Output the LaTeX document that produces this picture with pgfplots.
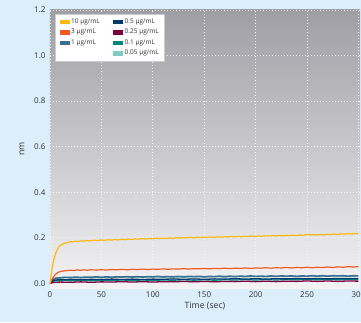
\documentclass[border=0pt]{standalone}
\usepackage{pgfplots}
\pgfplotsset{compat=1.18}
\usepackage{fontspec}
\setmainfont{Open Sans}
\definecolor{bgblue}{RGB}{220,238,250}
\definecolor{gtop}{RGB}{158,158,164}
\definecolor{gbot}{RGB}{243,243,245}
\definecolor{cA}{RGB}{253,184,19}
\definecolor{cB}{RGB}{241,90,36}
\definecolor{cC}{RGB}{60,110,143}
\definecolor{cD}{RGB}{0,58,112}
\definecolor{cE}{RGB}{123,0,65}
\definecolor{cF}{RGB}{0,137,123}
\definecolor{cG}{RGB}{126,203,195}
\definecolor{tickgray}{RGB}{50,50,50}
\begin{document}
\begin{tikzpicture}
\fill[bgblue] (-50pt,-34pt) rectangle (311pt,288pt);
\begin{axis}[
  at={(0pt,0pt)}, anchor=south west,
  scale only axis, width=310pt, height=278pt,
  xmin=0, xmax=301.5, ymin=-0.02, ymax=1.2,
  xtick={0,50,...,300}, ytick={0,0.2,...,1.2},
  yticklabel style={/pgf/number format/fixed, /pgf/number format/fixed zerofill, /pgf/number format/precision=1, xshift=-1pt},
  /pgf/number format/assume math mode=true,
  ticklabel style={font=\fontsize{8}{9}\selectfont, text=tickgray},
  axis line style={draw=none},
  major tick length=0pt,
  grid=major,
  grid style={white!92!gray, dash pattern=on 0.9pt off 2.1pt, line width=0.8pt},
  axis background/.style={shade, top color=gtop, bottom color=gbot},
  xlabel={Time (sec)}, ylabel={nm},
  label style={font=\fontsize{8.7}{10}\selectfont, text=tickgray},
  xlabel style={yshift=2pt},
  ylabel style={yshift=3pt},
  legend columns=2,
  legend cell align=left,
  legend image code/.code={\fill[#1, draw=none] (0pt,-2.2pt) rectangle (10pt,2.2pt);},
  legend style={at={(0,1)}, anchor=north west, xshift=5pt, yshift=-4pt,
    font=\fontsize{6.5}{7.5}\selectfont, text=tickgray, draw=gray!40, fill=white,
    inner xsep=4.5pt, inner ysep=2.5pt, row sep=0.3pt,
    nodes={inner xsep=1.5pt},
    /tikz/every even column/.append style={column sep=12pt}},
]
\addlegendimage{fill=cA}\addlegendentry{10 µg/mL}
\addlegendimage{fill=cD}\addlegendentry{0.5 µg/mL}
\addlegendimage{fill=cB}\addlegendentry{3 µg/mL}
\addlegendimage{fill=cE}\addlegendentry{0.25 µg/mL}
\addlegendimage{fill=cC}\addlegendentry{1 µg/mL}
\addlegendimage{fill=cF}\addlegendentry{0.1 µg/mL}
\addlegendimage{empty legend}\addlegendentry{}
\addlegendimage{fill=cG}\addlegendentry{0.05 µg/mL}

% 0.05
\addplot[cG, line width=1.2pt, forget plot] coordinates {
(0,0)(1,0.008)(2,0.014)(4,0.02)(7,0.023)(10,0.025)(20,0.026)(30,0.024)(40,0.027)(50,0.025)(60,0.028)(70,0.026)(80,0.028)(90,0.026)(100,0.029)(110,0.027)(120,0.029)(130,0.027)(140,0.03)(150,0.028)(160,0.03)(170,0.028)(180,0.031)(190,0.029)(200,0.031)(210,0.029)(220,0.032)(230,0.03)(240,0.032)(250,0.03)(260,0.033)(270,0.031)(280,0.033)(290,0.031)(300,0.033)};
% 0.1
\addplot[cF, line width=1.2pt, forget plot] coordinates {
(0,0)(1,0.005)(2,0.008)(4,0.011)(7,0.012)(10,0.013)(20,0.012)(30,0.014)(40,0.012)(50,0.014)(60,0.013)(70,0.015)(80,0.013)(90,0.015)(100,0.013)(110,0.015)(120,0.014)(130,0.016)(140,0.014)(150,0.016)(160,0.014)(170,0.016)(180,0.015)(190,0.017)(200,0.015)(210,0.017)(220,0.015)(230,0.017)(240,0.016)(250,0.018)(260,0.016)(270,0.018)(280,0.016)(290,0.018)(300,0.017)};
% 1
\addplot[cC, line width=1.6pt, forget plot] coordinates {
(0,0)(1,0.008)(2,0.014)(3,0.018)(5,0.022)(7,0.024)(10,0.025)(15,0.027)(20,0.026)(25,0.028)(30,0.026)(35,0.028)(40,0.027)(45,0.029)(50,0.027)(55,0.029)(60,0.027)(65,0.029)(70,0.028)(75,0.03)(80,0.028)(85,0.03)(90,0.028)(95,0.03)(100,0.029)(105,0.031)(110,0.029)(115,0.03)(120,0.029)(125,0.031)(130,0.029)(135,0.031)(140,0.03)(145,0.031)(150,0.029)(155,0.031)(160,0.03)(165,0.032)(170,0.03)(175,0.032)(180,0.03)(185,0.032)(190,0.031)(195,0.033)(200,0.031)(205,0.032)(210,0.031)(215,0.033)(220,0.031)(225,0.033)(230,0.032)(235,0.033)(240,0.031)(245,0.033)(250,0.032)(255,0.034)(260,0.032)(265,0.034)(270,0.032)(275,0.034)(280,0.033)(285,0.034)(290,0.032)(295,0.034)(300,0.033)};
% 0.5
\addplot[cD, line width=1.3pt, forget plot] coordinates {
(0,0)(1,0.006)(2,0.01)(3,0.013)(5,0.015)(8,0.016)(10,0.017)(15,0.016)(20,0.018)(30,0.016)(40,0.018)(50,0.017)(60,0.019)(70,0.017)(80,0.019)(90,0.017)(100,0.019)(110,0.018)(120,0.02)(130,0.018)(140,0.02)(150,0.018)(160,0.02)(170,0.019)(180,0.021)(190,0.019)(200,0.021)(210,0.019)(220,0.021)(230,0.02)(240,0.022)(250,0.02)(260,0.022)(270,0.02)(280,0.022)(290,0.021)(300,0.022)};
% 0.25
\addplot[cE, line width=1.3pt, forget plot] coordinates {
(0,0)(2,0.003)(5,0.005)(10,0.006)(20,0.005)(30,0.007)(40,0.005)(50,0.007)(60,0.006)(70,0.008)(80,0.006)(90,0.008)(100,0.006)(110,0.008)(120,0.007)(130,0.009)(140,0.007)(150,0.009)(160,0.007)(170,0.009)(180,0.008)(190,0.01)(200,0.008)(210,0.01)(220,0.008)(230,0.01)(240,0.009)(250,0.011)(260,0.009)(270,0.011)(280,0.009)(290,0.011)(300,0.01)};
% 3
\addplot[cB, line width=1.2pt, forget plot] coordinates {
(0,0)(1,0.01)(2,0.019)(3,0.026)(4,0.032)(5,0.038)(6,0.042)(7,0.046)(8,0.049)(10,0.052)(12,0.054)(15,0.056)(18,0.057)(20,0.058)(23,0.057)(26,0.059)(30,0.058)(33,0.06)(36,0.058)(40,0.06)(45,0.059)(50,0.06)(55,0.059)(60,0.061)(65,0.06)(70,0.062)(75,0.06)(80,0.062)(85,0.061)(90,0.063)(95,0.061)(100,0.063)(105,0.062)(110,0.064)(115,0.062)(120,0.064)(125,0.063)(130,0.065)(135,0.063)(140,0.065)(145,0.064)(150,0.066)(155,0.064)(160,0.066)(165,0.065)(170,0.067)(175,0.065)(180,0.067)(185,0.066)(190,0.068)(195,0.066)(200,0.068)(205,0.067)(210,0.069)(215,0.067)(220,0.069)(225,0.068)(230,0.07)(235,0.068)(240,0.07)(245,0.069)(250,0.071)(255,0.069)(260,0.071)(265,0.07)(270,0.072)(275,0.07)(280,0.073)(285,0.071)(290,0.074)(295,0.072)(300,0.074)};
% 10
\addplot[cA, line width=1.2pt, forget plot] coordinates {
(0,0)(0.5,0.015)(1,0.035)(1.5,0.05)(2,0.065)(3,0.09)(4,0.11)(5,0.125)(6,0.138)(7,0.148)(8,0.156)(9,0.162)(10,0.167)(12,0.172)(14,0.176)(16,0.179)(18,0.181)(20,0.183)(22,0.182)(25,0.185)(28,0.184)(30,0.187)(33,0.186)(36,0.188)(40,0.187)(43,0.19)(46,0.188)(50,0.191)(53,0.189)(56,0.192)(60,0.19)(63,0.193)(66,0.191)(70,0.194)(73,0.192)(76,0.195)(80,0.193)(83,0.196)(86,0.194)(90,0.197)(93,0.195)(96,0.197)(100,0.196)(103,0.199)(106,0.197)(110,0.199)(113,0.198)(116,0.2)(120,0.198)(123,0.201)(126,0.199)(130,0.201)(133,0.2)(136,0.202)(140,0.2)(143,0.203)(146,0.201)(150,0.203)(153,0.202)(156,0.204)(160,0.202)(163,0.205)(166,0.203)(170,0.205)(173,0.204)(176,0.206)(180,0.204)(183,0.207)(186,0.205)(190,0.207)(193,0.206)(196,0.208)(200,0.206)(203,0.209)(206,0.207)(210,0.209)(213,0.208)(216,0.21)(220,0.208)(223,0.211)(226,0.209)(230,0.211)(233,0.21)(236,0.212)(240,0.21)(243,0.213)(246,0.211)(250,0.215)(253,0.213)(256,0.214)(260,0.212)(263,0.215)(266,0.213)(270,0.216)(273,0.214)(276,0.217)(280,0.215)(283,0.218)(286,0.216)(290,0.218)(293,0.217)(296,0.219)(300,0.218)};
\end{axis}
\pgfresetboundingbox
\useasboundingbox (-50pt,-34pt) rectangle (311pt,288pt);
\end{tikzpicture}
\end{document}
